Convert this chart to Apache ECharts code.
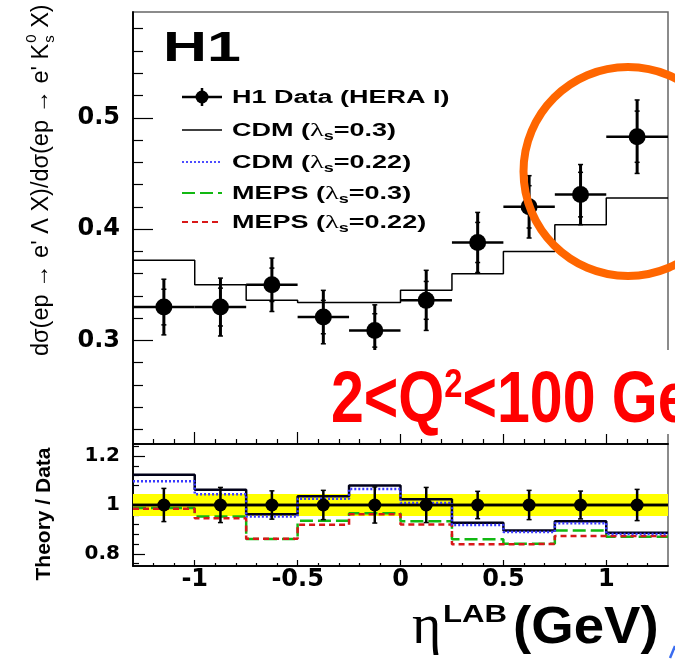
<!DOCTYPE html>
<html>
<head>
<meta charset="utf-8">
<script src="https://cdn.jsdelivr.net/npm/echarts@6/dist/echarts.min.js"></script>
<style>
html, body { margin: 0; padding: 0; background: #fff; }
#chart { width: 675px; height: 660px; }
</style>
</head>
<body>
<div id="chart"></div>
<script>
// eta(lab) binning
const binEdges = [-1.3, -1.0, -0.75, -0.5, -0.25, 0, 0.25, 0.5, 0.75, 1.0, 1.3];
const binCenters = [-1.15, -0.875, -0.625, -0.375, -0.125, 0.125, 0.375, 0.625, 0.875, 1.15];

// H1 measurement of the Lambda / K0s cross section ratio
const dataRatio   = [0.330, 0.330, 0.350, 0.321, 0.309, 0.336, 0.388, 0.420, 0.431, 0.483];
const dataTotErr  = [0.025, 0.026, 0.024, 0.024, 0.023, 0.027, 0.027, 0.028, 0.027, 0.033];
const dataStatErr = [0.016, 0.017, 0.015, 0.015, 0.015, 0.017, 0.018, 0.019, 0.020, 0.023];

// CDM (lambda_s = 0.3) prediction
const cdm03 = [0.372, 0.350, 0.336, 0.334, 0.334, 0.345, 0.360, 0.380, 0.404, 0.428];

// Theory / Data
const ratioCdm03   = [1.124, 1.062, 0.962, 1.036, 1.080, 1.024, 0.927, 0.895, 0.933, 0.886];
const ratioCdm022  = [1.097, 1.044, 0.953, 1.026, 1.066, 1.008, 0.918, 0.889, 0.925, 0.881];
const ratioMeps03  = [0.988, 0.953, 0.861, 0.935, 0.966, 0.933, 0.860, 0.841, 0.895, 0.870];
const ratioMeps022 = [0.985, 0.946, 0.862, 0.919, 0.962, 0.920, 0.839, 0.840, 0.873, 0.873];
const ratioDataErr = [0.068, 0.072, 0.058, 0.060, 0.074, 0.072, 0.056, 0.060, 0.057, 0.064];
const normBand = [0.955, 1.045];

// axis ticks
const etaTicks = [-1, -0.5, 0, 0.5, 1];
const etaMinorTicks = [-1.2, -1.1, -0.9, -0.8, -0.7, -0.6, -0.4, -0.3, -0.2, -0.1,
                       0.1, 0.2, 0.3, 0.4, 0.6, 0.7, 0.8, 0.9, 1.1, 1.2];
const mainTicks = [0.3, 0.4, 0.5];
const mainMinorTicks = [0.22, 0.24, 0.26, 0.28, 0.32, 0.34, 0.36, 0.38,
                        0.42, 0.44, 0.46, 0.48, 0.52, 0.54, 0.56, 0.58];
const ratioTicks = [0.8, 1.0, 1.2];
const ratioMinorTicks = [0.76, 0.84, 0.88, 0.92, 0.96, 1.04, 1.08, 1.12, 1.16, 1.24];

const mainRange = [0.207, 0.595];
const ratioRange = [0.75, 1.25];

const legendLabels = [
  '{b|H1 Data (HERA I)}',
  '{b|CDM (}{g|λ}{s|s}{b|=0.3)}',
  '{b|CDM (}{g|λ}{s|s}{b|=0.22)}',
  '{b|MEPS (}{g|λ}{s|s}{b|=0.3)}',
  '{b|MEPS (}{g|λ}{s|s}{b|=0.22)}'
];

const xMin = binEdges[0];
const xMax = binEdges[binEdges.length - 1];

const SANS = '"Liberation Sans", Arial, Helvetica, sans-serif';
const TICKFONT = '"DejaVu Sans", sans-serif';

const styles = {
  cdm03:   { color: '#000018', width: 2.5, type: 'solid' },
  cdm022:  { color: '#3a3aff', width: 2.5, type: [2, 2] },
  meps03:  { color: '#12b812', width: 2.5, type: [13, 5] },
  meps022: { color: '#d81818', width: 2.5, type: [6, 4] }
};

// histogram outline: one point per lower bin edge plus the last upper edge
function stepPoints(vals) {
  const pts = vals.map((v, i) => [binEdges[i], v]);
  pts.push([binEdges[binEdges.length - 1], vals[vals.length - 1]]);
  return pts;
}

const mainPoints = binCenters.map((c, i) =>
  [c, dataRatio[i], binEdges[i], binEdges[i + 1], dataTotErr[i], dataStatErr[i]]);
const ratioPoints = binCenters.map((c, i) =>
  [c, 1, binEdges[i], binEdges[i + 1], ratioDataErr[i], ratioDataErr[i]]);

function pointRenderer(radius, hWidth, vWidth, withStat) {
  return function (params, api) {
    const c = api.value(0), v = api.value(1), lo = api.value(2), hi = api.value(3);
    const e = api.value(4), s = api.value(5);
    const p = api.coord([c, v]);
    const pl = api.coord([lo, v]);
    const ph = api.coord([hi, v]);
    const pt = api.coord([c, v + e]);
    const pb = api.coord([c, v - e]);
    const ink = { stroke: '#000', lineWidth: hWidth };
    const children = [
      { type: 'line', shape: { x1: pl[0], y1: p[1], x2: ph[0], y2: p[1] }, style: ink },
      { type: 'line', shape: { x1: p[0], y1: pt[1], x2: p[0], y2: pb[1] }, style: { stroke: '#000', lineWidth: vWidth } },
      { type: 'line', shape: { x1: p[0] - 2.5, y1: pt[1], x2: p[0] + 2.5, y2: pt[1] }, style: { stroke: '#000', lineWidth: 1.5 } },
      { type: 'line', shape: { x1: p[0] - 2.5, y1: pb[1], x2: p[0] + 2.5, y2: pb[1] }, style: { stroke: '#000', lineWidth: 1.5 } }
    ];
    if (withStat) {
      const st = api.coord([c, v + s]);
      const sb = api.coord([c, v - s]);
      children.push(
        { type: 'line', shape: { x1: p[0] - 2.5, y1: st[1], x2: p[0] + 2.5, y2: st[1] }, style: { stroke: '#000', lineWidth: 1.5 } },
        { type: 'line', shape: { x1: p[0] - 2.5, y1: sb[1], x2: p[0] + 2.5, y2: sb[1] }, style: { stroke: '#000', lineWidth: 1.5 } }
      );
    }
    children.push({ type: 'circle', shape: { cx: p[0], cy: p[1], r: radius }, style: { fill: '#000' } });
    return { type: 'group', children: children };
  };
}

function xAxisDef(grid, ticks, len, labels) {
  return {
    type: 'value', gridIndex: grid, position: 'bottom', min: xMin, max: xMax,
    axisLine: { show: true, onZero: false, lineStyle: { color: '#000', width: 1.5 } },
    axisTick: { show: true, inside: true, length: len, customValues: ticks, lineStyle: { color: '#000', width: 1.2 } },
    axisLabel: labels ? {
      show: true, customValues: etaTicks, margin: 2,
      fontFamily: TICKFONT, fontWeight: 'bold', fontSize: 24, color: '#000'
    } : { show: false },
    splitLine: { show: false }
  };
}

function yAxisDef(grid, range, ticks, len, labelSize) {
  return {
    type: 'value', gridIndex: grid, position: 'left', min: range[0], max: range[1],
    axisLine: { show: true, onZero: false, lineStyle: { color: '#000', width: 1.5 } },
    axisTick: { show: true, inside: true, length: len, customValues: ticks, lineStyle: { color: '#000', width: 1.2 } },
    axisLabel: labelSize ? {
      show: true, customValues: ticks, margin: 13,
      fontFamily: TICKFONT, fontWeight: 'bold', fontSize: labelSize, color: '#000'
    } : { show: false },
    splitLine: { show: false }
  };
}

// text width helper for composing the rotated axis title
const measureCtx = document.createElement('canvas').getContext('2d');
function textWidth(text, font) {
  measureCtx.font = font;
  return measureCtx.measureText(text).width;
}

const titleFont = '23.5px ' + SANS;
const scriptFont = '15px ' + SANS;
const titleHead = 'dσ(ep → e\' Λ X)/dσ(ep → e\' K';
const titleTail = ' X)';
const headW = textWidth(titleHead, titleFont);
const scriptW = Math.max(textWidth('0', scriptFont), textWidth('s', scriptFont));

const legendRowY = [97, 130, 162, 193, 222];
const legendLineKeys = [null, null, 'cdm022', 'meps03', 'meps022'];

function legendSample(i) {
  const y = legendRowY[i];
  if (i === 0) {
    return [
      { type: 'line', shape: { x1: 182, y1: y, x2: 222, y2: y }, style: { stroke: '#000', lineWidth: 2.5 }, z: 10 },
      { type: 'line', shape: { x1: 202, y1: y - 9, x2: 202, y2: y + 9 }, style: { stroke: '#000', lineWidth: 2.5 }, z: 10 },
      { type: 'circle', shape: { cx: 202, cy: y, r: 6.5 }, style: { fill: '#000' }, z: 10 }
    ];
  }
  if (i === 1) {
    return [{ type: 'line', shape: { x1: 182, y1: y, x2: 222, y2: y }, style: { stroke: '#000', lineWidth: 1.6 }, z: 10 }];
  }
  const st = styles[legendLineKeys[i]];
  return [{
    type: 'line', shape: { x1: 182, y1: y, x2: 222, y2: y },
    style: { stroke: st.color, lineWidth: 1.8, lineDash: st.type === 'solid' ? null : st.type }, z: 10
  }];
}

const legendRich = {
  b: { fontFamily: SANS, fontWeight: 'bold', fontSize: 18, lineHeight: 24, fill: '#000' },
  g: { fontFamily: '"Liberation Serif", "DejaVu Serif", serif', fontSize: 19, lineHeight: 24, fill: '#000' },
  s: { fontFamily: SANS, fontWeight: 'bold', fontSize: 12, lineHeight: 12, verticalAlign: 'bottom', fill: '#000' }
};

const graphics = [];
legendLabels.forEach((label, i) => {
  legendSample(i).forEach(g => graphics.push(g));
  graphics.push({
    type: 'text', x: 232, y: legendRowY[i] + 1, scaleX: 1.5, z: 10,
    style: { text: label, align: 'left', verticalAlign: 'middle', rich: legendRich }
  });
});

graphics.push(
  // experiment tag
  { type: 'text', x: 163, y: 49, scaleX: 1.45, z: 10,
    style: { text: 'H1', font: 'bold 42px ' + SANS, fill: '#000', align: 'left', verticalAlign: 'middle' } },
  // y title, upper panel
  { type: 'group', x: 42, y: 356, rotation: Math.PI / 2, z: 10, children: [
    { type: 'text', x: 0, y: 0, style: { text: titleHead, font: titleFont, fill: '#000', align: 'left', verticalAlign: 'middle' } },
    { type: 'text', x: headW + 1, y: -10, style: { text: '0', font: scriptFont, fill: '#000', align: 'left', verticalAlign: 'middle' } },
    { type: 'text', x: headW + 1, y: 8, style: { text: 's', font: scriptFont, fill: '#000', align: 'left', verticalAlign: 'middle' } },
    { type: 'text', x: headW + 1 + scriptW, y: 0, style: { text: titleTail, font: titleFont, fill: '#000', align: 'left', verticalAlign: 'middle' } }
  ] },
  // y title, ratio panel
  { type: 'text', x: 44, y: 514, rotation: Math.PI / 2, z: 10,
    style: { text: 'Theory / Data', font: 'bold 21px ' + SANS, fill: '#000', align: 'center', verticalAlign: 'middle' } },
  // x title
  { type: 'text', x: 412, y: 628, z: 10,
    style: { text: 'η', font: '56px "Liberation Serif", "DejaVu Serif", serif', fill: '#000', align: 'left', verticalAlign: 'middle' } },
  { type: 'text', x: 443, y: 615, scaleX: 1.3, z: 10,
    style: { text: 'LAB', font: 'bold 24px ' + SANS, fill: '#000', align: 'left', verticalAlign: 'middle' } },
  { type: 'text', x: 513, y: 629, scaleX: 1.05, z: 10,
    style: { text: '(GeV)', font: 'bold 52px ' + SANS, fill: '#000', align: 'left', verticalAlign: 'middle' } },
  // kinematic range note
  { type: 'rect', shape: { x: 322, y: 350, width: 353, height: 84 }, style: { fill: '#fff' }, z: 50 },
  { type: 'text', x: 331, y: 402, scaleX: 0.82, z: 51,
    style: {
      text: '{a|2<Q}{b|2}{a|<100 GeV}{b|2}', align: 'left', verticalAlign: 'middle',
      rich: {
        a: { fontFamily: SANS, fontWeight: 'bold', fontSize: 72, lineHeight: 72, fill: '#ff0000' },
        b: { fontFamily: SANS, fontWeight: 'bold', fontSize: 40, lineHeight: 40, verticalAlign: 'top', fill: '#ff0000' }
      }
    } },
  // highlight of the forward region
  { type: 'ellipse', shape: { cx: 628, cy: 171.5, rx: 104.5, ry: 104.5 },
    style: { fill: null, stroke: '#ff6600', lineWidth: 8 }, z: 60 },
  { type: 'line', shape: { x1: 670, y1: 658, x2: 675, y2: 646 }, style: { stroke: '#3a6cf0', lineWidth: 2.5 }, z: 60 }
);

const chart = echarts.init(document.getElementById('chart'), null, { renderer: 'canvas' });

const option = {
  animation: false,
  backgroundColor: '#fff',
  grid: [
    { left: 133, top: 12, width: 535, height: 432, show: true, borderColor: '#666', borderWidth: 1.5, backgroundColor: 'transparent' },
    { left: 133, top: 444, width: 535, height: 122, show: true, borderColor: '#666', borderWidth: 1.5, backgroundColor: 'transparent' }
  ],
  xAxis: [
    xAxisDef(0, etaTicks, 12, false),
    xAxisDef(0, etaMinorTicks, 5, false),
    xAxisDef(1, etaTicks, 6, true),
    xAxisDef(1, etaMinorTicks, 3, false)
  ],
  yAxis: [
    yAxisDef(0, mainRange, mainTicks, 20, 24),
    yAxisDef(0, mainRange, mainMinorTicks, 10, 0),
    yAxisDef(1, ratioRange, ratioTicks, 12, 20),
    yAxisDef(1, ratioRange, ratioMinorTicks, 6, 0)
  ],
  series: [
    {
      name: 'CDM (λs=0.3)', type: 'line', xAxisIndex: 0, yAxisIndex: 0,
      data: stepPoints(cdm03), step: 'end', symbol: 'none', z: 3,
      lineStyle: { color: '#000', width: 1.5 }
    },
    {
      name: 'H1 Data (HERA I)', type: 'custom', xAxisIndex: 0, yAxisIndex: 0,
      data: mainPoints, renderItem: pointRenderer(8.5, 2.5, 3, true), z: 5
    },
    {
      name: 'norm', type: 'line', xAxisIndex: 2, yAxisIndex: 2,
      data: [[xMin, 1], [xMax, 1]], symbol: 'none', z: 4,
      lineStyle: { color: '#000', width: 2.5 },
      markArea: {
        silent: true, itemStyle: { color: '#ffff00', opacity: 1 },
        data: [[{ yAxis: normBand[0] }, { yAxis: normBand[1] }]]
      }
    },
    {
      name: 'MEPS (λs=0.3)', type: 'line', xAxisIndex: 2, yAxisIndex: 2,
      data: stepPoints(ratioMeps03), step: 'end', symbol: 'none', z: 4,
      lineStyle: styles.meps03
    },
    {
      name: 'MEPS (λs=0.22)', type: 'line', xAxisIndex: 2, yAxisIndex: 2,
      data: stepPoints(ratioMeps022), step: 'end', symbol: 'none', z: 4,
      lineStyle: styles.meps022
    },
    {
      name: 'CDM (λs=0.3) ratio', type: 'line', xAxisIndex: 2, yAxisIndex: 2,
      data: stepPoints(ratioCdm03), step: 'end', symbol: 'none', z: 4,
      lineStyle: styles.cdm03
    },
    {
      name: 'CDM (λs=0.22)', type: 'line', xAxisIndex: 2, yAxisIndex: 2,
      data: stepPoints(ratioCdm022), step: 'end', symbol: 'none', z: 4,
      lineStyle: styles.cdm022
    },
    {
      name: 'H1 Data ratio', type: 'custom', xAxisIndex: 2, yAxisIndex: 2,
      data: ratioPoints, renderItem: pointRenderer(6.5, 2.5, 2.5, false), z: 6
    }
  ],
  graphic: { elements: graphics }
};

chart.setOption(option);
</script>
</body>
</html>
